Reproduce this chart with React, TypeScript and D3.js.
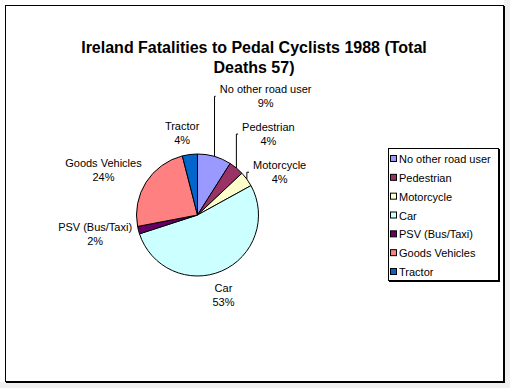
import React, { useEffect, useRef } from 'react';
import * as d3 from 'd3';

// shares of deaths by other party involved (percent, as labelled on the chart)
const categories = ['No other road user', 'Pedestrian', 'Motorcycle', 'Car', 'PSV (Bus/Taxi)', 'Goods Vehicles', 'Tractor'];
const shares = [9, 4, 4, 53, 2, 24, 4];
const sliceColors = ['#9999FF', '#993366', '#FFFFCC', '#CCFFFF', '#660066', '#FF8080', '#0066CC'];

// label nudges from the default outside position, and which labels get a leader line
const labelNudge: [number, number][] = [[45, -39], [18, -17], [15, 6], [-7, 3.5], [-22, -2], [-24, -1], [-5, 0]];
const hasLeader = [true, true, true, false, false, false, false];

const title = ['Ireland Fatalities to Pedal Cyclists 1988 (Total', 'Deaths 57)'];

const W = 510;
const H = 388;
const FONT = '"Liberation Sans", Arial, sans-serif';

const App = () => {
  const ref = useRef<SVGSVGElement>(null);

  useEffect(() => {
    const svg = d3.select(ref.current);
    svg.selectAll('*').remove();

    // background + frame with shadow
    svg.append('rect').attr('width', W).attr('height', H).attr('fill', '#f0f0f0');
    svg.append('rect').attr('width', 504).attr('height', 382).attr('fill', 'white');
    svg.append('rect')
      .attr('x', 5.5).attr('y', 5.5).attr('width', 498).attr('height', 376)
      .attr('fill', 'none').attr('stroke', 'black');
    svg.append('path').attr('d', 'M504.5,6V383M6,382.5H505').attr('stroke', 'black').attr('fill', 'none');

    // title
    svg.append('g')
      .attr('text-anchor', 'middle')
      .style('font', `bold 16px ${FONT}`)
      .selectAll('text')
      .data(title)
      .join('text')
      .attr('x', 254)
      .attr('y', (d, i) => 53 + i * 20)
      .text(d => d);

    // pie
    const cx = 197.5;
    const cy = 215;
    const r = 61;
    const data = categories.map((name, i) => ({ name, value: shares[i], color: sliceColors[i], i }));
    const pie = d3.pie<any>().sort(null).value(d => d.value);
    const arcs = pie(data);
    const arc = d3.arc<any>().innerRadius(0).outerRadius(r);
    const edge = d3.arc<any>().innerRadius(r).outerRadius(r);
    const outer = d3.arc<any>().innerRadius(r + 22).outerRadius(r + 22);

    const g = svg.append('g').attr('transform', `translate(${cx},${cy})`);
    g.selectAll('path.slice')
      .data(arcs)
      .join('path')
      .attr('class', 'slice')
      .attr('d', arc)
      .attr('fill', d => d.data.color)
      .attr('stroke', 'black')
      .attr('stroke-width', 1);

    const labels = g.append('g')
      .attr('text-anchor', 'middle')
      .style('font', `11px ${FONT}`);

    arcs.forEach(d => {
      const [bx, by] = outer.centroid(d);
      const [nx, ny] = labelNudge[d.data.i];
      const lx = bx + nx;
      const ly = by + ny;
      const t = labels.append('text');
      t.append('tspan').attr('x', lx).attr('y', ly - 3).text(d.data.name);
      t.append('tspan').attr('x', lx).attr('y', ly + 11).text(`${d.data.value}%`);

      if (hasLeader[d.data.i]) {
        const w = (t.node() as SVGTextElement).getBBox().width;
        const [ex, ey] = edge.centroid(d);
        const endX = lx - w / 2 - 4;
        g.append('path')
          .attr('d', `M${ex},${ey}L${Math.min(ex, endX)},${ly}L${endX},${ly}`)
          .attr('fill', 'none')
          .attr('stroke', 'black')
          .attr('stroke-width', 1);
      }
    });

    // legend
    const lg = svg.append('g');
    lg.append('rect')
      .attr('x', 388.5).attr('y', 148.5).attr('width', 110).attr('height', 132)
      .attr('fill', 'white').attr('stroke', 'black');
    lg.append('path').attr('d', 'M499.5,149V282M389,281.5H500').attr('stroke', 'black').attr('fill', 'none');

    const row = d3.scalePoint<string>().domain(categories).range([159, 272]);
    const items = lg.selectAll('g.item')
      .data(data)
      .join('g')
      .attr('class', 'item')
      .attr('transform', d => `translate(390,${row(d.name)})`);
    items.append('rect')
      .attr('x', 0.5).attr('y', -3.5).attr('width', 6).attr('height', 6)
      .attr('fill', d => d.color).attr('stroke', 'black');
    items.append('text')
      .attr('x', 9).attr('y', 4)
      .style('font', `11px ${FONT}`)
      .text(d => d.name);
  }, []);

  return (
    <svg ref={ref} width={W} height={H} style={{ position: 'absolute', left: 0, top: 0 }} />
  );
};

export default App;
